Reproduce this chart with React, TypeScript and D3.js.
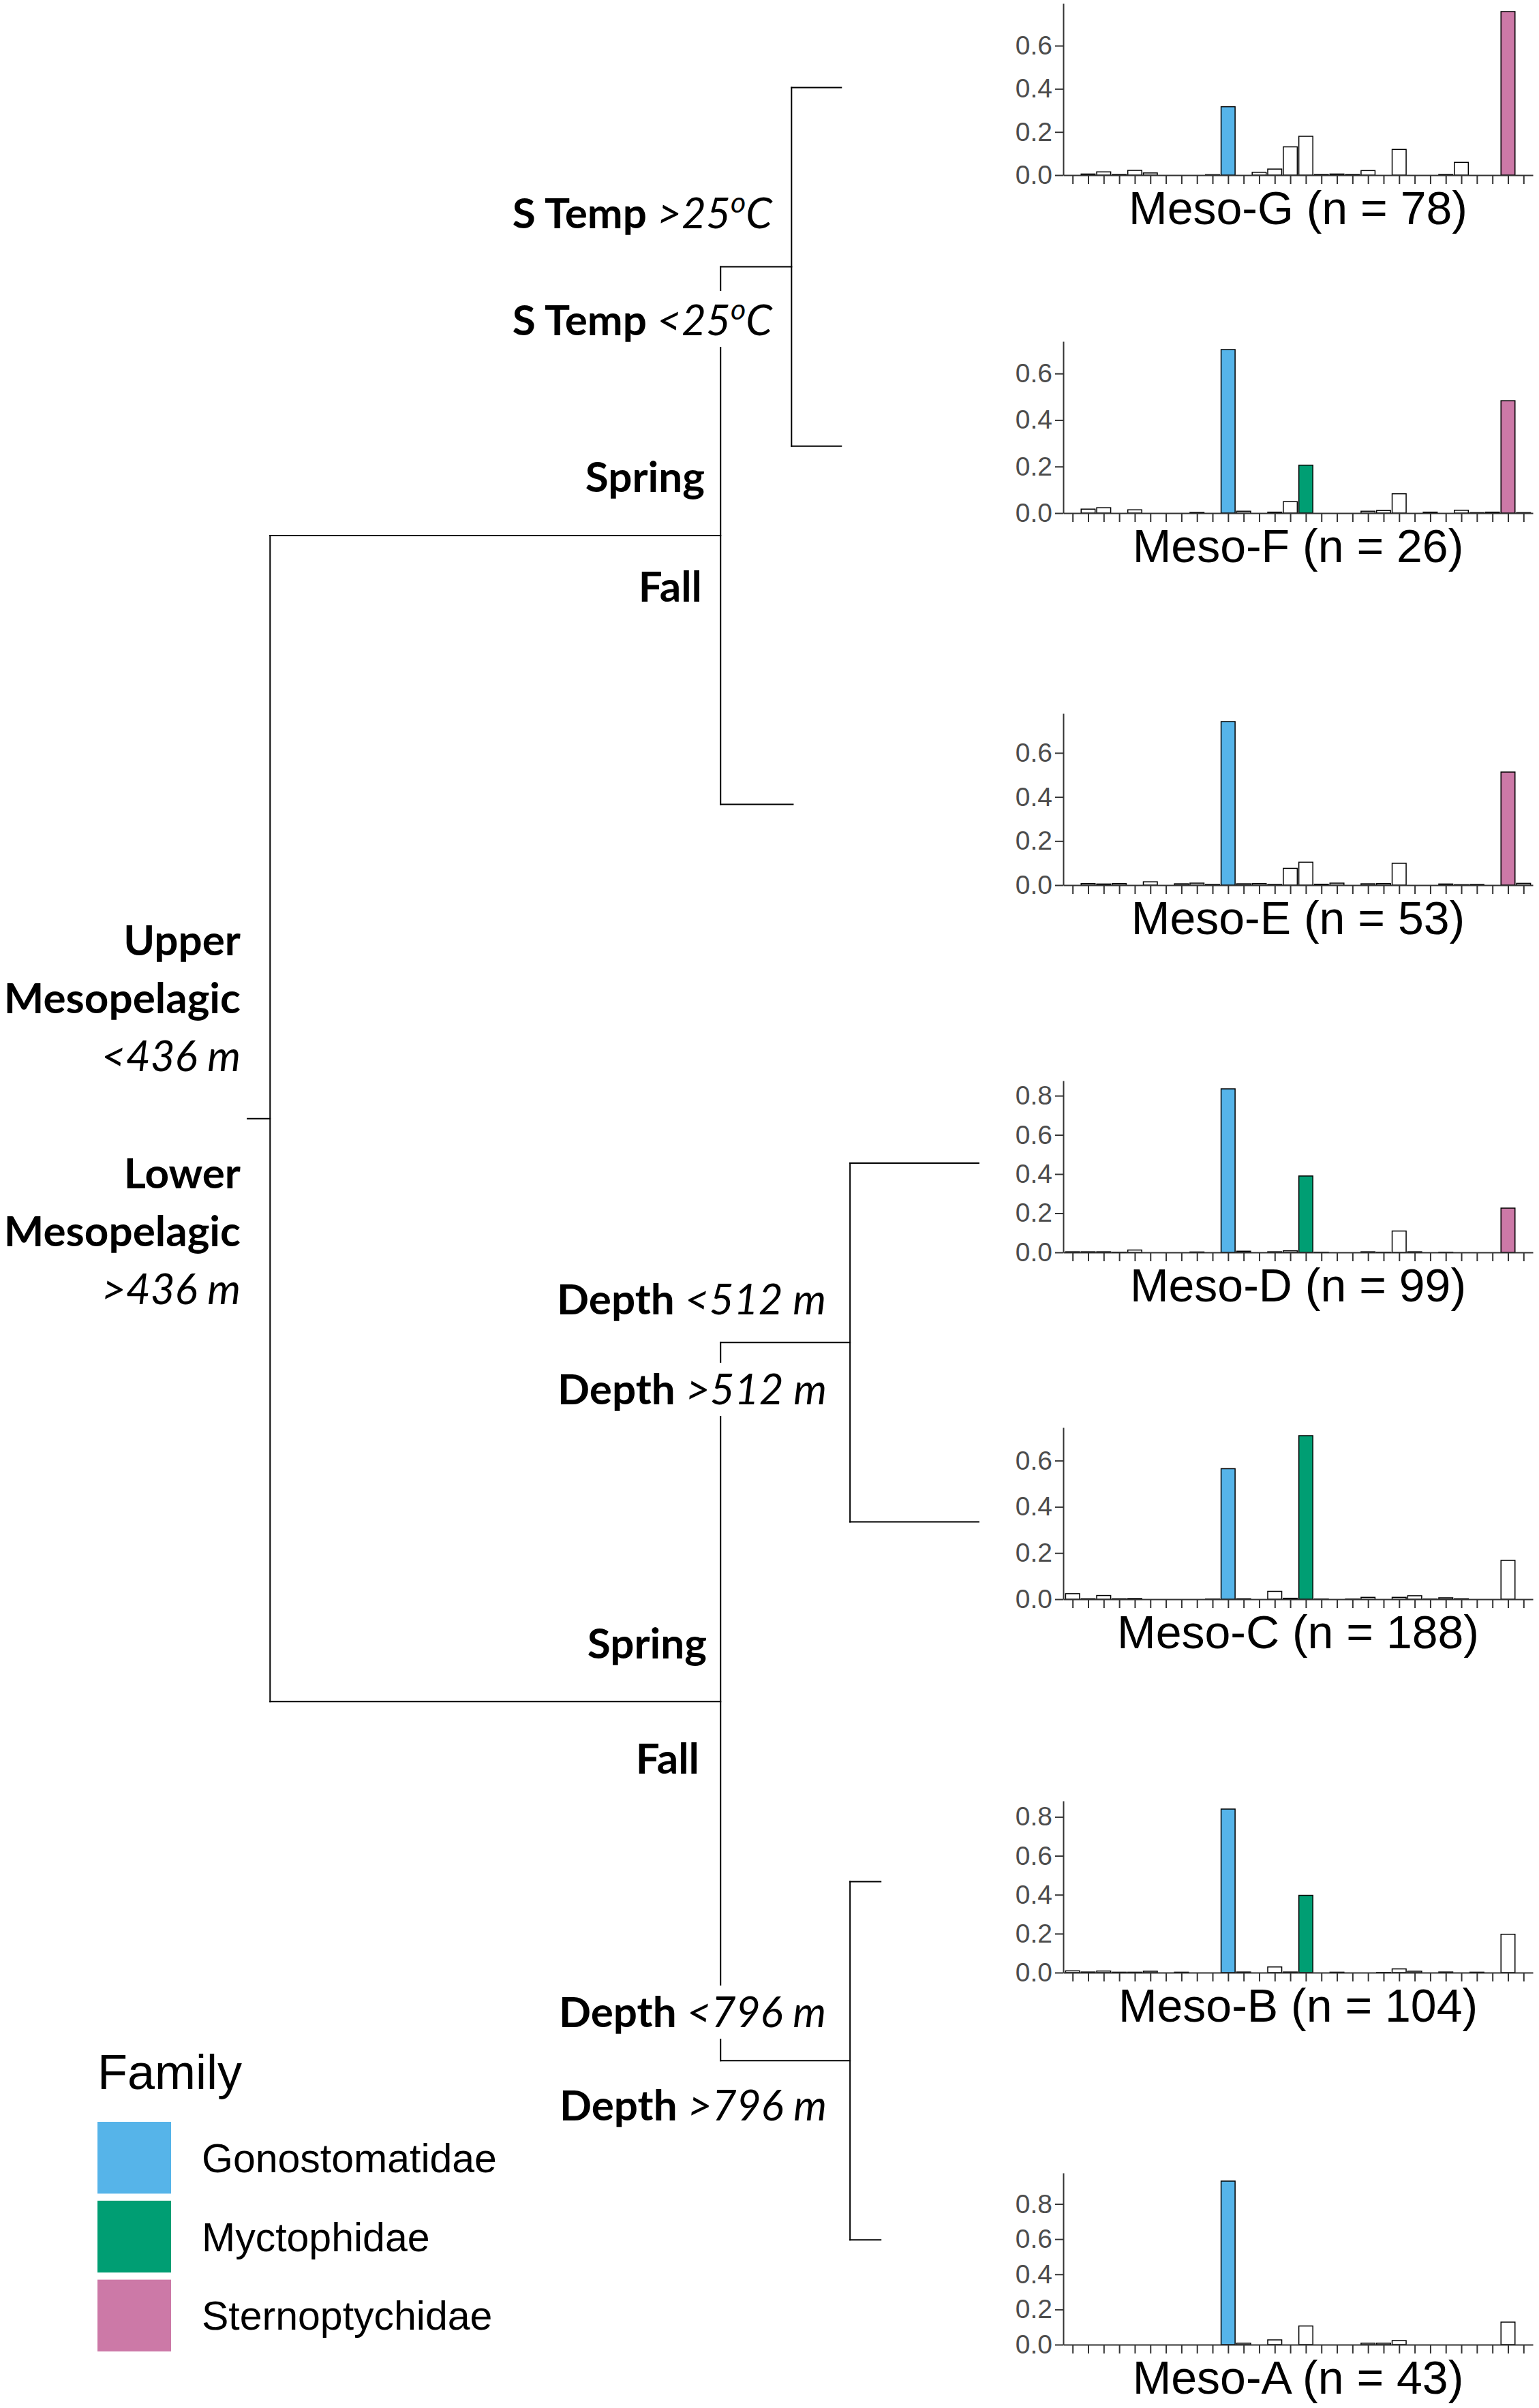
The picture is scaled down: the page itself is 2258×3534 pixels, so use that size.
import { useEffect, useRef } from 'react'
import * as d3 from 'd3'

const families = ['Gonostomatidae', 'Myctophidae', 'Sternoptychidae']
const familyColors = ['#56B4E9', '#009E73', '#CC79A7']

// 30 taxa along each x axis (unlabelled in the figure)
const taxa = d3.range(1, 31).map(i => `taxon${i}`)
// taxa that can be coloured, and the family each one belongs to
const indicatorTaxa = [10, 15, 28]
const indicatorFamily = [0, 1, 2]

const groupNames = ['Meso-G', 'Meso-F', 'Meso-E', 'Meso-D', 'Meso-C', 'Meso-B', 'Meso-A']
const groupN = [78, 26, 53, 99, 188, 104, 43]

const mesoG = [0, 0.005, 0.015, 0.003, 0.022, 0.01, 0, 0, 0, 0.002, 0.317, 0, 0.013, 0.028, 0.131, 0.18, 0.003, 0.005, 0.003, 0.021, 0, 0.119, 0, 0, 0.003, 0.059, 0, 0, 0.758, 0]
const mesoF = [0, 0.017, 0.023, 0, 0.014, 0, 0, 0, 0.003, 0, 0.703, 0.008, 0, 0.004, 0.049, 0.206, 0, 0, 0, 0.008, 0.011, 0.083, 0, 0.004, 0, 0.012, 0.002, 0.004, 0.483, 0.002]
const mesoE = [0, 0.007, 0.005, 0.007, 0, 0.015, 0, 0.006, 0.009, 0.003, 0.742, 0.006, 0.007, 0.003, 0.076, 0.104, 0.004, 0.009, 0, 0.006, 0.007, 0.099, 0, 0, 0.005, 0.002, 0.003, 0, 0.513, 0.008]
const mesoD = [0.003, 0.003, 0.003, 0.001, 0.012, 0, 0, 0, 0.002, 0, 0.835, 0.006, 0, 0.003, 0.008, 0.39, 0.001, 0, 0, 0.003, 0.001, 0.109, 0.003, 0, 0.001, 0, 0, 0, 0.226, 0]
const mesoC = [0.024, 0.002, 0.016, 0.002, 0.003, 0, 0, 0, 0, 0.001, 0.565, 0.002, 0, 0.034, 0.004, 0.708, 0.001, 0, 0.001, 0.008, 0, 0.008, 0.015, 0.001, 0.006, 0.002, 0, 0, 0.168, 0]
const mesoB = [0.009, 0.003, 0.008, 0.002, 0.002, 0.007, 0, 0.002, 0, 0, 0.84, 0.003, 0, 0.029, 0.003, 0.397, 0, 0.002, 0, 0, 0.001, 0.019, 0.007, 0, 0.003, 0, 0.002, 0, 0.197, 0]
const mesoA = [0, 0, 0, 0, 0, 0, 0, 0, 0, 0, 0.93, 0.008, 0, 0.027, 0, 0.106, 0, 0, 0, 0.008, 0.008, 0.023, 0, 0, 0, 0, 0, 0, 0.128, 0]
const groupValues = [mesoG, mesoF, mesoE, mesoD, mesoC, mesoB, mesoA]

// indicator taxa drawn in family colour for each group
const groupFilled = [[10, 28], [10, 15, 28], [10, 28], [10, 15, 28], [10, 15], [10, 15], [10]]

// dendrogram: levels in arbitrary distance units, leaves attach part way down each panel
type TreeNode = { level: number; leaf?: number; children?: TreeNode[] }
const leafLevel = [81.2, 81.2, 74.6, 100, 100, 86.6, 86.6]
const leafAttach = [0.49, 0.61, 0.53, 0.48, 0.55, 0.47, 0.39]
const leaf = (i: number): TreeNode => ({ level: leafLevel[i], leaf: i })
const tree: TreeNode = {
  level: 3.1,
  children: [
    { level: 64.7, children: [{ level: 74.4, children: [leaf(0), leaf(1)] }, leaf(2)] },
    {
      level: 64.7,
      children: [
        { level: 82.4, children: [leaf(3), leaf(4)] },
        { level: 82.4, children: [leaf(5), leaf(6)] },
      ],
    },
  ],
}

// split labels: b = bold, i = italic, s = italic superscript
const splitLabels: { parts: [string, string][]; x: number; y: number }[] = [
  { parts: [['b', 'S Temp '], ['i', '>25'], ['s', 'o'], ['i', 'C']], x: 1133, y: 335 },
  { parts: [['b', 'S Temp '], ['i', '<25'], ['s', 'o'], ['i', 'C']], x: 1133, y: 492 },
  { parts: [['b', 'Spring']], x: 1034, y: 722 },
  { parts: [['b', 'Fall']], x: 1030, y: 883 },
  { parts: [['b', 'Upper']], x: 353, y: 1402 },
  { parts: [['b', 'Mesopelagic']], x: 353, y: 1487 },
  { parts: [['i', '<436 m']], x: 353, y: 1572 },
  { parts: [['b', 'Lower']], x: 353, y: 1744 },
  { parts: [['b', 'Mesopelagic']], x: 353, y: 1829 },
  { parts: [['i', '>436 m']], x: 353, y: 1914 },
  { parts: [['b', 'Depth '], ['i', '<512 m']], x: 1212, y: 1929 },
  { parts: [['b', 'Depth '], ['i', '>512 m']], x: 1213, y: 2061 },
  { parts: [['b', 'Spring']], x: 1037, y: 2434 },
  { parts: [['b', 'Fall']], x: 1026, y: 2603 },
  { parts: [['b', 'Depth '], ['i', '<796 m']], x: 1212, y: 2975 },
  { parts: [['b', 'Depth '], ['i', '>796 m']], x: 1213, y: 3112 },
]

const W = 2258
const H = 3534
const plotLeft = 1560
const plotRight = 2249
const plotH = 252
const panelZero = [257, 753, 1299, 1838, 2347, 2895, 3441]
const sans = '"Liberation Sans", Arial, sans-serif'

export default function App() {
  const svgRef = useRef<SVGSVGElement>(null)

  useEffect(() => {
    if (!svgRef.current) return
    const svg = d3.select(svgRef.current)
    svg.selectAll('*').remove()

    svg.append('rect').attr('width', W).attr('height', H).attr('fill', '#fff')

    const x = d3.scalePoint<string>().domain(taxa).range([plotLeft, plotRight]).padding(0.6)
    const barW = x.step() * 0.9

    // bar panels
    groupValues.forEach((vals, gi) => {
      const zero = panelZero[gi]
      const maxV = d3.max(vals) || 0
      const y = d3.scaleLinear().domain([0, maxV * 1.05]).range([zero, zero - plotH])
      const g = svg.append('g')

      const fillOf = (i: number) => {
        const k = indicatorTaxa.indexOf(i)
        if (k >= 0 && groupFilled[gi].includes(i)) return familyColors[indicatorFamily[k]]
        return '#ffffff'
      }

      g.selectAll('.bar')
        .data(vals.map((v, i) => ({ v, i })).filter(d => d.v > 0))
        .enter()
        .append('rect')
        .attr('x', d => (x(taxa[d.i]) || 0) - barW / 2)
        .attr('y', d => y(d.v))
        .attr('width', barW)
        .attr('height', d => zero - y(d.v))
        .attr('fill', d => fillOf(d.i))
        .attr('stroke', '#000')
        .attr('stroke-width', 1.5)

      const ticks = d3.range(0, maxV * 1.05 + 1e-9, 0.2)
      const yAxis = g.append('g')
        .attr('transform', `translate(${plotLeft},0)`)
        .call(d3.axisLeft(y).tickValues(ticks).tickFormat(d3.format('.1f')).tickSize(12).tickSizeOuter(0).tickPadding(4))
      const xAxis = g.append('g')
        .attr('transform', `translate(0,${zero})`)
        .call(d3.axisBottom(x).tickSize(13).tickSizeOuter(0).tickFormat(() => ''))

      ;[yAxis, xAxis].forEach(ax => {
        ax.attr('color', '#333333')
        ax.select('.domain').attr('stroke-width', 2)
        ax.selectAll('line').attr('stroke-width', 2)
        ax.selectAll('text')
          .attr('font-family', sans)
          .attr('font-size', 39)
          .attr('fill', '#4d4d4d')
      })

      g.append('text')
        .attr('x', (plotLeft + plotRight) / 2)
        .attr('y', zero + 72)
        .attr('text-anchor', 'middle')
        .attr('font-family', sans)
        .attr('font-size', 68)
        .attr('fill', '#000')
        .text(`${groupNames[gi]} (n = ${groupN[gi]})`)
    })

    // dendrogram
    const tx = d3.scaleLinear().domain([0, 100]).range([363, 1436])
    const leafY = (i: number) => panelZero[i] - plotH + leafAttach[i] * plotH
    const nodeY = (n: TreeNode): number => {
      if (n.leaf !== undefined) return leafY(n.leaf)
      const kids = n.children || []
      return (nodeY(kids[0]) + nodeY(kids[kids.length - 1])) / 2
    }
    const segs: [number, number, number, number][] = []
    const walk = (n: TreeNode) => {
      if (!n.children) return
      const ys = n.children.map(nodeY)
      segs.push([tx(n.level), ys[0], tx(n.level), ys[ys.length - 1]])
      n.children.forEach((c, k) => {
        segs.push([tx(n.level), ys[k], tx(c.level), ys[k]])
        walk(c)
      })
    }
    walk(tree)
    const rootY = nodeY(tree)
    segs.push([tx(0), rootY, tx(tree.level), rootY])

    svg.append('g')
      .selectAll('line')
      .data(segs)
      .enter()
      .append('line')
      .attr('x1', d => d[0])
      .attr('y1', d => d[1])
      .attr('x2', d => d[2])
      .attr('y2', d => d[3])
      .attr('stroke', '#000')
      .attr('stroke-width', 2)
      .attr('stroke-linecap', 'square')

    // split labels with white boxes that mask the branches behind them
    splitLabels.forEach(lab => {
      const lg = svg.append('g')
      const box = lg.append('rect').attr('fill', '#fff')
      const t = lg.append('text')
        .attr('x', lab.x)
        .attr('y', lab.y)
        .attr('text-anchor', 'end')
        .attr('font-family', 'Lato, "Open Sans", sans-serif')
        .attr('font-size', 62)
        .attr('fill', '#000')
        .style('white-space', 'pre')
      let shifted = false
      lab.parts.forEach(([kind, str]) => {
        const ts = t.append('tspan').text(str)
        if (kind === 'b') ts.attr('font-weight', 700)
        else ts.attr('font-weight', 400).attr('font-style', 'italic')
        if (kind === 's') {
          ts.attr('font-size', 43).attr('dy', -23)
          shifted = true
        } else if (shifted) {
          ts.attr('dy', 23)
          shifted = false
        }
      })
      const bb = (t.node() as SVGTextElement).getBBox()
      box.attr('x', bb.x - 4).attr('y', bb.y).attr('width', bb.width + 8).attr('height', bb.height + 4)
    })

    // legend
    const lgd = svg.append('g')
    lgd.append('text')
      .attr('x', 143)
      .attr('y', 3066)
      .attr('font-family', sans)
      .attr('font-size', 72)
      .attr('fill', '#000')
      .text('Family')
    const ky = d3.scaleBand().domain(families).range([3114, 3451]).paddingInner(0.09)
    families.forEach((f, i) => {
      lgd.append('rect')
        .attr('x', 143)
        .attr('y', ky(f) || 0)
        .attr('width', 108)
        .attr('height', ky.bandwidth())
        .attr('fill', familyColors[i])
      lgd.append('text')
        .attr('x', 296)
        .attr('y', (ky(f) || 0) + ky.bandwidth() / 2 + 21)
        .attr('font-family', sans)
        .attr('font-size', 59)
        .attr('fill', '#000')
        .text(f)
    })
  }, [])

  return (
    <div style={{ position: 'absolute', left: 0, top: 0 }}>
      <svg ref={svgRef} width={W} height={H} style={{ display: 'block' }} />
    </div>
  )
}
